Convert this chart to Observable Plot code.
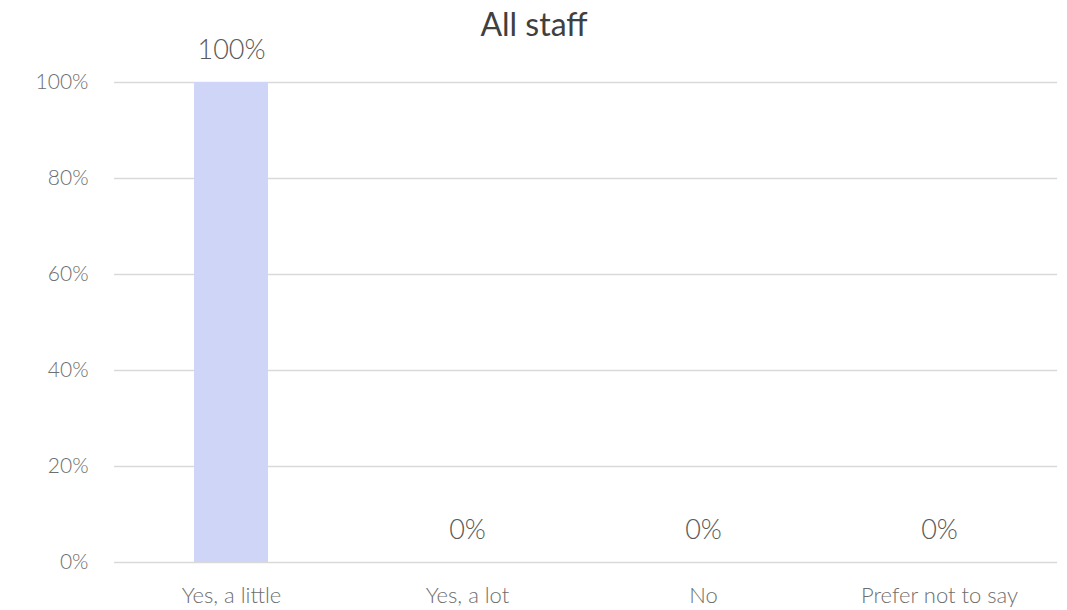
<!DOCTYPE html>
<html><head><meta charset="utf-8">
<script src="https://cdn.jsdelivr.net/npm/d3@7"></script>
<script src="https://cdn.jsdelivr.net/npm/@observablehq/plot@0.6"></script>
<style>body{margin:0;background:#fff;font-family:Lato,sans-serif}</style>
</head><body><div id="chart"></div>
<script>
const categories = ["Yes, a little", "Yes, a lot", "No", "Prefer not to say"];
const values = [1.0, 0, 0, 0];
const yTicks = [0, 0.2, 0.4, 0.6, 0.8, 1.0];
const title = "All staff";
const data = categories.map((c, i) => ({category: c, value: values[i]}));
const pct = v => Math.round(v * 100) + "%";
const chart = Plot.plot({
  width: 1067, height: 610,
  marginTop: 82, marginBottom: 48, marginLeft: 114, marginRight: 10,
  style: {fontFamily: "Lato, sans-serif", fontWeight: 300, color: "#595959", background: "#fff"},
  x: {domain: categories, paddingInner: 0.686, paddingOuter: 0.335, label: null},
  y: {domain: [0, 1], ticks: yTicks, label: null},
  marks: [
    Plot.gridY(yTicks, {stroke: "#d9d9d9", strokeOpacity: 1, strokeWidth: 1.5}),
    Plot.barY(data, {x: "category", y: "value", fill: "#cfd5f7"}),
    Plot.axisY(yTicks, {tickSize: 0, tickPadding: 26, tickFormat: pct, fontSize: 21, fontWeight: 300, fill: "#6e6e6e"}),
    Plot.axisX({tickSize: 0, tickPadding: 25, fontSize: 22, fontWeight: 300, fill: "#6e6e6e"}),
    Plot.text(data, {x: "category", y: "value", text: d => pct(d.value), dy: -32, fontSize: 27, fontWeight: 300, fill: "#595959"}),
    Plot.text([title], {frameAnchor: "top", dx: -52, dy: -57, fontSize: 32, fontWeight: 400, fill: "#404040", lineAnchor: "middle"})
  ]
});
document.getElementById("chart").append(chart);
</script></body></html>
